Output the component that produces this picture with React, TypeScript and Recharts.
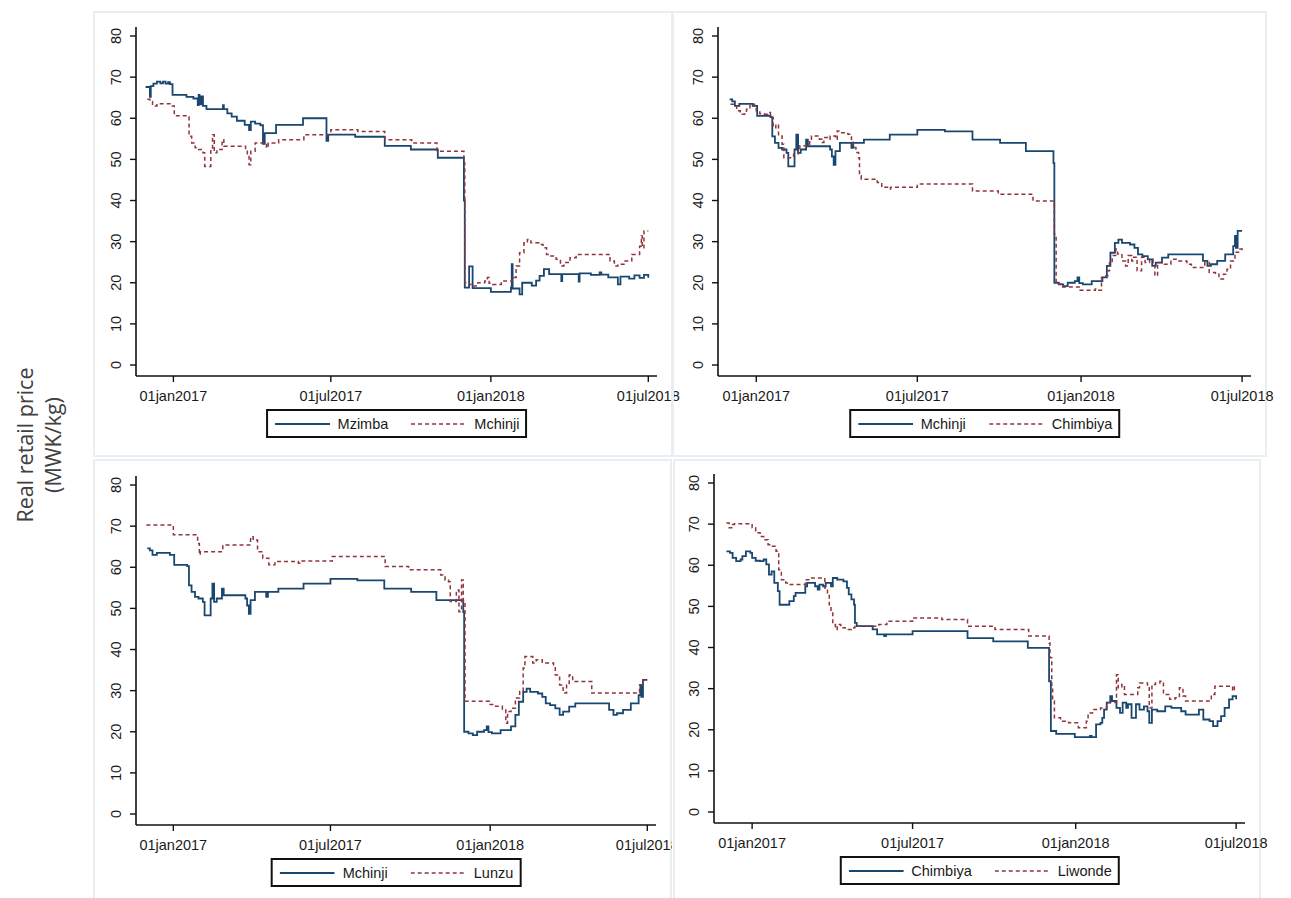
import React from 'react';
import { LineChart, Line, XAxis, YAxis } from 'recharts';

type Pt = [number, number];

// [days since 01jan2017, real retail price MWK/kg]
const mzimba: Pt[] = [
  [-32, 67.6], [-28, 67.6], [-27, 65.2], [-26, 67.8], [-23, 68.4], [-19, 68.9], [-15, 68.5],
  [-12, 68.9], [-9, 68.4], [-6, 68.8], [-4, 68.3], [-1, 65.7], [15, 65.2], [23, 64.8],
  [28, 63.2], [29, 65.7], [30, 63.4], [32, 65.3], [34, 63.0], [38, 62.2], [57, 63.2],
  [58, 62.2], [62, 61.2], [67, 60.4], [73, 59.4], [82, 58.4], [87, 57.1], [89, 59.2],
  [94, 58.7], [100, 58.3], [103, 53.8], [105, 56.4], [118, 58.4], [149, 60.0], [176, 54.5],
  [178, 56.0], [209, 55.5], [243, 53.3], [273, 52.4], [304, 50.4], [334, 40.0], [335, 18.8],
  [340, 24.0], [344, 18.7], [365, 17.8], [388, 18.8], [389, 24.5], [390, 18.6], [398, 17.2],
  [401, 20.0], [412, 19.3], [417, 20.5], [421, 21.7], [426, 23.3], [432, 22.1], [446, 20.4],
  [447, 22.1], [466, 20.3], [467, 22.3], [480, 21.9], [490, 22.5], [492, 22.0], [500, 21.3],
  [511, 19.6], [514, 21.5], [524, 21.0], [530, 21.8], [536, 21.2], [541, 21.9], [546, 21.2],
];

const mchinji: Pt[] = [
  [-30, 64.6], [-27, 64.1], [-24, 63.0], [-19, 63.5], [-6, 63.5], [-4, 63.0], [1, 60.6],
  [14, 60.6], [16, 60.3], [18, 55.6], [21, 54.0], [25, 52.8], [29, 52.4], [34, 51.6],
  [36, 48.3], [41, 48.3], [43, 52.4], [45, 56.0], [47, 51.6], [50, 52.4], [56, 54.8],
  [58, 53.2], [81, 53.2], [83, 52.4], [85, 50.7], [87, 48.7], [89, 52.0], [94, 54.0],
  [107, 52.8], [109, 54.0], [121, 54.8], [150, 56.0], [181, 57.2], [212, 56.8], [243, 54.8],
  [274, 54.0], [303, 52.0], [334, 49.1], [335, 20.0], [340, 19.6], [345, 19.2], [350, 20.0],
  [358, 20.4], [361, 21.3], [363, 19.9], [367, 19.6], [377, 20.4], [389, 21.3], [394, 24.1],
  [398, 27.3], [403, 29.7], [407, 30.5], [411, 29.7], [420, 29.3], [425, 28.5], [429, 26.9],
  [434, 26.5], [440, 25.7], [445, 24.1], [449, 24.9], [456, 26.1], [463, 26.9], [500, 26.9],
  [502, 25.3], [507, 24.1], [511, 24.5], [518, 25.3], [527, 26.9], [536, 28.9], [538, 31.4],
  [539, 28.5], [541, 32.6], [546, 32.6],
];

const chimbiya: Pt[] = [
  [-29, 63.4], [-25, 63.0], [-22, 61.8], [-18, 61.0], [-13, 61.4], [-11, 62.2], [-7, 63.4],
  [-2, 63.0], [0, 61.8], [4, 61.1], [9, 61.0], [13, 61.4], [16, 60.2], [19, 57.7], [22, 58.5],
  [25, 55.7], [29, 53.7], [31, 50.4], [40, 50.4], [42, 51.3], [47, 52.5], [49, 53.3],
  [58, 53.3], [60, 54.9], [62, 55.7], [71, 54.9], [74, 54.1], [76, 55.3], [80, 54.9],
  [83, 55.7], [89, 54.9], [91, 56.9], [96, 56.5], [103, 56.1], [107, 54.5], [109, 52.9],
  [112, 51.7], [115, 50.4], [116, 46.0], [118, 45.2], [134, 45.2], [136, 44.4], [141, 43.2],
  [149, 42.8], [151, 43.2], [181, 44.0], [243, 42.3], [272, 41.5], [311, 39.9], [335, 31.8],
  [337, 19.7], [343, 19.0], [364, 18.2], [381, 18.5], [383, 18.2], [388, 21.3], [393, 21.7],
  [395, 22.9], [397, 24.9], [400, 26.6], [404, 28.2], [406, 27.0], [411, 25.3], [415, 24.1],
  [418, 26.6], [422, 25.3], [424, 26.2], [428, 22.9], [433, 26.2], [437, 24.9], [442, 25.7],
  [446, 24.5], [448, 21.7], [451, 24.9], [457, 24.5], [466, 25.7], [473, 25.3], [484, 24.5],
  [489, 23.7], [498, 23.7], [504, 24.9], [509, 22.5], [516, 22.1], [520, 20.9], [525, 22.1],
  [529, 23.3], [533, 25.3], [538, 27.4], [542, 28.2], [546, 27.4],
];

const lunzu: Pt[] = [
  [-31, 70.3], [0, 67.9], [26, 67.9], [28, 65.8], [30, 63.0], [31, 63.8], [57, 65.4],
  [89, 67.4], [92, 66.6], [97, 63.8], [103, 62.2], [110, 60.6], [117, 61.4], [144, 61.0],
  [147, 61.5], [183, 62.6], [244, 60.2], [271, 59.4], [308, 58.1], [313, 56.9], [317, 56.5],
  [319, 51.7], [326, 54.5], [329, 49.2], [332, 56.9], [334, 51.7], [336, 27.4], [364, 26.6],
  [370, 26.2], [379, 25.3], [383, 22.1], [385, 24.9], [389, 25.7], [394, 28.2], [399, 29.8],
  [403, 35.5], [405, 38.3], [414, 36.7], [418, 37.5], [425, 36.7], [438, 35.9], [440, 33.8],
  [445, 31.4], [449, 29.4], [453, 31.4], [456, 33.8], [460, 32.2], [482, 29.4], [537, 31.4],
  [541, 32.6], [545, 32.6],
];

const liwonde: Pt[] = [
  [-29, 70.3], [-26, 69.1], [-22, 69.9], [-20, 70.1], [-2, 70.1], [0, 69.1], [4, 67.9],
  [9, 67.0], [13, 66.2], [18, 65.0], [22, 64.6], [27, 63.4], [30, 58.9], [33, 56.5],
  [38, 55.7], [42, 55.3], [60, 56.5], [65, 56.9], [82, 54.5], [85, 52.9], [87, 50.4],
  [89, 48.8], [91, 45.6], [94, 44.4], [96, 45.6], [100, 44.8], [105, 44.4], [112, 44.8],
  [116, 45.2], [143, 45.6], [152, 46.4], [181, 47.2], [214, 46.8], [243, 45.2], [274, 44.4],
  [312, 42.8], [335, 41.1], [336, 37.5], [338, 30.2], [339, 27.0], [341, 22.9], [348, 22.1],
  [357, 21.7], [368, 20.5], [377, 22.1], [379, 24.1], [384, 24.9], [393, 25.3], [400, 26.6],
  [410, 26.6], [411, 33.4], [413, 30.2], [417, 31.0], [420, 28.6], [435, 30.2], [437, 31.4],
  [444, 31.4], [446, 30.6], [448, 25.3], [451, 31.0], [455, 31.4], [460, 31.8], [464, 28.6],
  [471, 27.4], [477, 27.8], [482, 30.2], [486, 28.2], [489, 27.0], [516, 27.0], [518, 28.6],
  [522, 30.6], [540, 30.6], [542, 29.4], [544, 31.0],
];

const dateTicks = [0, 181, 365, 546];
const dateLabels = ['01jan2017', '01jul2017', '01jan2018', '01jul2018'];
const priceTicks = [0, 10, 20, 30, 40, 50, 60, 70, 80];

const NAVY = '#1a476f';
const MAROON = '#90353b';
const AXIS = '#111';
const TICK_FONT = "'Liberation Sans', Arial, sans-serif";
const XAXIS_H = 30;

const toRows = (pts: Pt[]) => pts.map(([d, v]) => ({ d, v }));

const XTick = (props: any) => {
  const { x, y, payload } = props;
  const i = dateTicks.indexOf(payload.value);
  return (
    <text x={x} y={y + 19} textAnchor="middle" fontSize={14.5} fontFamily={TICK_FONT} fill="#1a1a1a">
      {dateLabels[i]}
    </text>
  );
};

const YTick = (props: any) => {
  const { x, y, payload } = props;
  return (
    <text
      transform={`translate(${x - 14},${y}) rotate(-90)`}
      textAnchor="middle"
      dominantBaseline="central"
      fontSize={14.5}
      fontFamily={TICK_FONT}
      fill="#1a1a1a"
    >
      {payload.value}
    </text>
  );
};

const LegendSample = ({ dashed }: { dashed?: boolean }) => (
  <svg width={55} height={10} style={{ marginRight: 8 }}>
    <line
      x1={0}
      y1={5}
      x2={55}
      y2={5}
      stroke={dashed ? MAROON : NAVY}
      strokeWidth={dashed ? 1.5 : 1.8}
      strokeDasharray={dashed ? '4 3' : undefined}
    />
  </svg>
);

interface Box { left: number; top: number; width: number; height: number }
interface Plot { x0: number; x1: number; y0: number; y1: number }
interface Series { name: string; data: Pt[] }

interface PanelProps {
  box: Box;
  plot: Plot;
  solid: Series;
  dashed: Series;
  clip?: boolean;
}

const Panel: React.FC<PanelProps> = ({ box, plot, solid, dashed, clip }) => {
  const right = clip ? box.left + box.width - plot.x1 : 50;
  const width = plot.x1 - box.left + right;
  const height = box.height;
  const top = plot.y0 - box.top;
  const bottom = height - (plot.y1 - box.top) - XAXIS_H;
  return (
    <>
      <div
        style={{
          position: 'absolute',
          left: box.left,
          top: box.top,
          width: box.width,
          height: box.height,
          border: '2px solid #e8eff2',
          boxSizing: 'border-box',
        }}
      />
      <div
        style={{
          position: 'absolute',
          left: box.left,
          top: box.top,
          width,
          height,
          overflow: clip ? 'hidden' : 'visible',
        }}
      >
        <LineChart width={width} height={height} margin={{ top, right, bottom, left: 0 }}>
          <XAxis
            type="number"
            dataKey="d"
            domain={[-43, 556]}
            allowDataOverflow
            ticks={dateTicks}
            interval={0}
            height={XAXIS_H}
            tickSize={6}
            tickMargin={0}
            tick={(p: any) => <XTick {...p} />}
            axisLine={{ stroke: AXIS, strokeWidth: 1.6 }}
            tickLine={{ stroke: AXIS, strokeWidth: 1.4 }}
          />
          <YAxis
            type="number"
            domain={[-2.67, 82.19]}
            allowDataOverflow
            ticks={priceTicks}
            interval={0}
            width={plot.x0 - box.left}
            tickSize={6}
            tickMargin={0}
            tick={(p: any) => <YTick {...p} />}
            axisLine={{ stroke: AXIS, strokeWidth: 1.6 }}
            tickLine={{ stroke: AXIS, strokeWidth: 1.4 }}
          />
          <Line
            data={toRows(solid.data)}
            dataKey="v"
            type="stepAfter"
            stroke={NAVY}
            strokeWidth={1.8}
            dot={false}
            isAnimationActive={false}
          />
          <Line
            data={toRows(dashed.data)}
            dataKey="v"
            type="stepAfter"
            stroke={MAROON}
            strokeWidth={1.5}
            strokeDasharray="4 3"
            dot={false}
            isAnimationActive={false}
          />
        </LineChart>
      </div>
      <div
        style={{
          position: 'absolute',
          left: (plot.x0 + plot.x1) / 2,
          top: plot.y1 + 33,
          transform: 'translateX(-50%)',
          height: 29,
          boxSizing: 'border-box',
          border: '2px solid #111',
          display: 'flex',
          alignItems: 'center',
          padding: '0 6px 0 7px',
          whiteSpace: 'nowrap',
          fontFamily: TICK_FONT,
          fontSize: 14.5,
          color: '#1a1a1a',
          background: '#fff',
        }}
      >
        <LegendSample />
        <span style={{ marginRight: 23 }}>{solid.name}</span>
        <LegendSample dashed />
        <span>{dashed.name}</span>
      </div>
    </>
  );
};

export default function App() {
  return (
    <div style={{ position: 'absolute', left: 0, top: 0, width: 1291, height: 898, background: '#fff', overflow: 'hidden' }}>
      <svg width={93} height={898} style={{ position: 'absolute', left: 0, top: 0 }}>
        <text
          transform="translate(24,445) rotate(-90)"
          textAnchor="middle"
          dominantBaseline="central"
          fontSize={21.5}
          fontFamily="'Open Sans', sans-serif"
          fill="#404040"
        >
          Real retail price
        </text>
        <text
          transform="translate(52,445) rotate(-90)"
          textAnchor="middle"
          dominantBaseline="central"
          fontSize={21.5}
          fontFamily="'Open Sans', sans-serif"
          fill="#404040"
        >
          (MWK/kg)
        </text>
      </svg>
      <Panel
        box={{ left: 93, top: 11, width: 580, height: 446 }}
        plot={{ x0: 136, x1: 657, y0: 27, y1: 376 }}
        solid={{ name: 'Mzimba', data: mzimba }}
        dashed={{ name: 'Mchinji', data: mchinji }}
      />
      <Panel
        box={{ left: 672, top: 11, width: 595, height: 446 }}
        plot={{ x0: 718, x1: 1251, y0: 27, y1: 376 }}
        solid={{ name: 'Mchinji', data: mchinji }}
        dashed={{ name: 'Chimbiya', data: chimbiya }}
      />
      <Panel
        box={{ left: 93, top: 459, width: 579, height: 445 }}
        plot={{ x0: 136, x1: 656, y0: 476, y1: 825 }}
        solid={{ name: 'Mchinji', data: mchinji }}
        dashed={{ name: 'Lunzu', data: lunzu }}
        clip
      />
      <Panel
        box={{ left: 673, top: 459, width: 588, height: 445 }}
        plot={{ x0: 714, x1: 1245, y0: 474, y1: 823 }}
        solid={{ name: 'Chimbiya', data: chimbiya }}
        dashed={{ name: 'Liwonde', data: liwonde }}
      />
    </div>
  );
}
